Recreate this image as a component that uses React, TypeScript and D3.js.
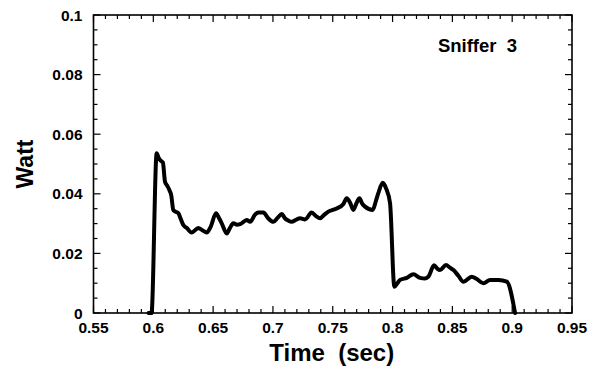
import React from "react";
import * as d3 from "d3";

const times = [
  0.596, 0.5985, 0.6028, 0.6045, 0.606, 0.608, 0.6098, 0.6115, 0.6134, 0.615,
  0.6167, 0.6185, 0.6209, 0.623, 0.6251, 0.628, 0.6321, 0.635, 0.6376, 0.641,
  0.6447, 0.648, 0.6524, 0.655, 0.6572, 0.6614, 0.664, 0.6669, 0.67, 0.6725,
  0.6781, 0.6809, 0.685, 0.6878, 0.692, 0.696, 0.7003, 0.704, 0.7074, 0.71,
  0.7129, 0.7157, 0.719, 0.7227, 0.7268, 0.7324, 0.736, 0.7394, 0.743, 0.7463,
  0.7533, 0.7589, 0.7617, 0.7645, 0.7672, 0.77, 0.7723, 0.7745, 0.777, 0.7835,
  0.786, 0.7881, 0.7918, 0.7946, 0.7979, 0.8015, 0.804, 0.8063, 0.8119, 0.8174,
  0.823, 0.8272, 0.83, 0.8347, 0.8375, 0.8397, 0.8447, 0.848, 0.8509, 0.855,
  0.8592, 0.8662, 0.87, 0.8759, 0.8815, 0.8885, 0.8955, 0.9024,
];
const watts = [
  0, 0, 0.0536, 0.052, 0.0512, 0.0505, 0.044, 0.0428, 0.0413, 0.0395,
  0.0346, 0.034, 0.0335, 0.0315, 0.0295, 0.0285, 0.027, 0.0278, 0.0285, 0.0278,
  0.027, 0.029, 0.0335, 0.0318, 0.0301, 0.0267, 0.0285, 0.0301, 0.0296, 0.0298,
  0.0312, 0.0306, 0.033, 0.0337, 0.0337, 0.0318, 0.0306, 0.032, 0.0332, 0.0318,
  0.031, 0.0306, 0.0312, 0.0318, 0.0314, 0.0337, 0.0325, 0.0318, 0.033, 0.034,
  0.0351, 0.0366, 0.0385, 0.037, 0.0346, 0.037, 0.0385, 0.0368, 0.0357, 0.0346,
  0.0375, 0.0402, 0.0437, 0.0418, 0.0368, 0.0088, 0.01, 0.0111, 0.0118, 0.013,
  0.0118, 0.0116, 0.0122, 0.016, 0.0148, 0.0144, 0.0161, 0.0152, 0.0144, 0.0125,
  0.0105, 0.0122, 0.0115, 0.01, 0.0111, 0.0111, 0.0105, 0,
];

const xTickLabels = ["0.55", "0.6", "0.65", "0.7", "0.75", "0.8", "0.85", "0.9", "0.95"];
const yTickLabels = ["0", "0.02", "0.04", "0.06", "0.08", "0.1"];
const xDomain = [0.55, 0.95];
const yDomain = [0, 0.1];
const seriesLabel = "Sniffer 3";
const xTitle = "Time  (sec)";
const yTitle = "Watt";

const W = 598, H = 370;
const L = 93.5, R = 572, T = 15, B = 313;
const FONT = "'Liberation Sans', Arial, sans-serif";

export default function App() {
  const x = d3.scaleLinear().domain(xDomain).range([L, R]);
  const y = d3.scaleLinear().domain(yDomain).range([B, T]);
  const pts: [number, number][] = times.map((t, i) => [t, watts[i]]);
  const line = d3.line<[number, number]>().x(d => x(d[0])).y(d => y(d[1])).curve(d3.curveMonotoneX);

  const xMinor = d3.range(0, 41).map(i => 0.55 + i * 0.01);
  const yMinor = d3.range(0, 21).map(i => i * 0.005);

  return (
    <svg width={W} height={H} style={{ position: "absolute", left: 0, top: 0, background: "#fff" }}>
      <rect x={0} y={0} width={W} height={H} fill="#fff" />
      {xMinor.map((v, i) => {
        const major = i % 5 === 0;
        const len = major ? 7 : 4;
        const px = x(v);
        return (
          <g key={"xt" + i} stroke="#000" strokeWidth={1.2}>
            <line x1={px} x2={px} y1={B} y2={B - len} />
            <line x1={px} x2={px} y1={T} y2={T + len} />
          </g>
        );
      })}
      {yMinor.map((v, i) => {
        const major = i % 4 === 0;
        const len = major ? 7 : 4;
        const py = y(v);
        return (
          <g key={"yt" + i} stroke="#000" strokeWidth={1.2}>
            <line x1={L} x2={L + len} y1={py} y2={py} />
            <line x1={R} x2={R - len} y1={py} y2={py} />
          </g>
        );
      })}
      <rect x={L} y={T} width={R - L} height={B - T} fill="none" stroke="#000" strokeWidth={1.6} />
      {xTickLabels.map((s, i) => (
        <text key={"xl" + i} x={x(+s)} y={B + 20} textAnchor="middle" fontFamily={FONT}
          fontWeight="bold" fontSize={15.5} fill="#000">{s}</text>
      ))}
      {yTickLabels.map((s, i) => (
        <text key={"yl" + i} x={L - 11} y={y(+s) + 5.5} textAnchor="end" fontFamily={FONT}
          fontWeight="bold" fontSize={15.5} fill="#000">{s}</text>
      ))}
      <text x={(x(0.7) + x(0.8)) / 2 - 1} y={361} textAnchor="middle" fontFamily={FONT}
        fontWeight="bold" fontSize={24} fill="#000" style={{ whiteSpace: "pre" }}>{xTitle}</text>
      <text transform={`translate(33,${(T + B) / 2}) rotate(-90)`} textAnchor="middle" fontFamily={FONT}
        fontWeight="bold" fontSize={23} fill="#000">{yTitle}</text>
      <text x={477.5} y={52} textAnchor="middle" fontFamily={FONT} fontWeight="bold" fontSize={18.5}
        fill="#000" style={{ whiteSpace: "pre" }}>{seriesLabel.replace(" ", "  ")}</text>
      <path d={line(pts) || ""} fill="none" stroke="#000" strokeWidth={4} strokeLinejoin="round" strokeLinecap="round" />
    </svg>
  );
}
